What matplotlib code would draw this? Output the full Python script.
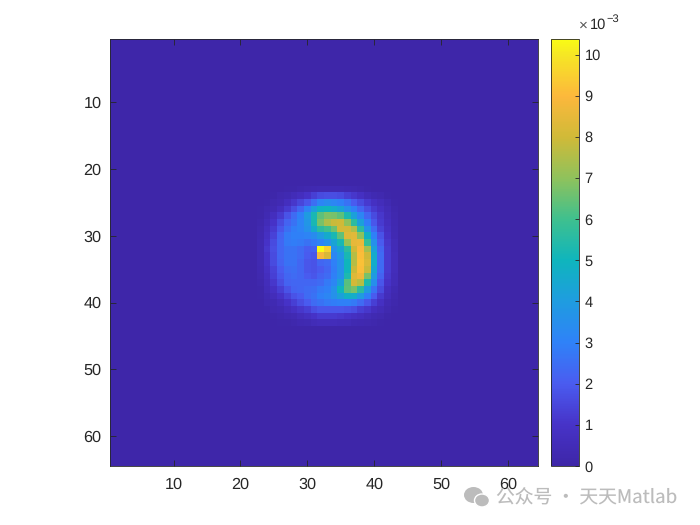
import numpy as np
import matplotlib
matplotlib.use("Agg")
import matplotlib.pyplot as plt
from matplotlib.colors import LinearSegmentedColormap
from matplotlib.patches import Ellipse

plt.rcParams['font.family'] = ['Liberation Sans', 'DejaVu Sans']
plt.rcParams['text.hinting'] = 'none'

first_row = 23
first_col = 23
background = 0.05
vmax = 10.38
# values in units of 1e-3, rows 23..43, columns 23..43 (outside: background)
cells = [
 [.05,.05,.05,.05,.1,.1,.2,.25,.3,.35,.35,.35,.35,.3,.25,.2,.1,.05,.05,.05,.05],
 [.05,.05,.1,.25,.35,.55,.7,1.0,1.3,1.6,1.7,1.7,1.6,1.3,1.1,.85,.55,.35,.25,.1,.05],
 [.05,.1,.25,.4,.7,1.1,1.5,1.9,2.5,3.1,3.4,3.2,3.0,2.6,2.0,1.6,1.2,.85,.6,.35,.1],
 [.1,.25,.4,.7,1.2,1.7,2.3,3.1,4.1,4.9,5.0,4.7,4.3,3.6,3.0,2.3,1.7,1.2,.85,.5,.2],
 [.1,.35,.7,1.2,1.8,2.4,3.0,4.0,5.2,6.4,6.8,6.7,6.4,5.3,4.2,3.2,2.3,1.6,1.1,.6,.25],
 [.2,.55,1.0,1.6,2.2,2.6,3.1,3.8,5.2,6.7,7.5,7.9,8.0,7.0,5.6,4.2,2.9,1.9,1.2,.7,.3],
 [.25,.7,1.2,1.9,2.5,2.9,3.1,3.6,4.6,5.6,6.0,6.6,8.1,8.1,7.5,5.6,3.7,2.4,1.4,.85,.35],
 [.3,.85,1.4,2.2,2.8,3.0,3.0,3.1,3.4,4.0,4.6,5.2,6.4,8.3,8.4,7.0,4.8,3.0,1.8,1.0,.4],
 [.35,1.0,1.6,2.3,2.8,2.9,2.8,2.6,2.8,3.1,3.6,4.3,5.2,7.1,8.5,8.6,5.8,3.6,2.0,1.1,.5],
 [.35,1.1,1.7,2.3,2.6,2.6,2.4,2.1,2.2,10.38,9.5,3.6,4.3,5.6,8.0,9.0,7.3,4.2,2.3,1.2,.55],
 [.35,1.0,1.6,2.3,2.6,2.6,2.4,2.0,1.9,8.9,8.2,3.2,3.8,5.2,7.6,9.1,8.0,4.6,2.4,1.2,.6],
 [.35,1.0,1.6,2.2,2.6,2.6,2.3,1.9,1.8,2.3,2.4,3.0,3.6,5.0,7.6,9.2,8.2,4.7,2.4,1.2,.6],
 [.3,.85,1.4,2.0,2.4,2.5,2.3,1.9,1.8,2.0,2.3,2.9,3.6,5.0,7.9,9.1,7.9,4.4,2.4,1.2,.6],
 [.25,.7,1.3,1.9,2.3,2.4,2.3,2.0,1.9,2.2,2.4,3.0,3.6,5.3,8.3,8.7,6.7,4.0,2.2,1.1,.55],
 [.2,.6,1.1,1.7,2.2,2.3,2.3,2.3,2.3,2.4,2.8,3.2,4.2,6.3,8.1,7.6,5.3,3.5,1.9,1.0,.5],
 [.1,.5,.85,1.3,1.8,2.2,2.3,2.4,2.5,2.8,3.0,3.6,5.0,6.4,6.7,5.6,4.0,2.6,1.6,.7,.35],
 [.1,.35,.6,1.0,1.4,1.8,2.0,2.4,2.6,3.0,3.2,3.6,4.2,4.8,4.7,4.0,3.0,2.0,1.2,.6,.25],
 [.05,.25,.35,.6,1.0,1.3,1.7,2.0,2.4,2.6,2.8,2.9,3.0,3.0,2.8,2.4,1.9,1.3,.85,.4,.2],
 [.05,.1,.25,.35,.6,.85,1.1,1.3,1.7,1.9,1.9,1.9,1.9,1.8,1.7,1.3,1.1,.7,.5,.25,.1],
 [.05,.05,.1,.2,.3,.4,.6,.8,1.0,1.2,1.2,1.2,1.1,1.0,.85,.7,.5,.35,.25,.1,.05],
 [.05,.05,.05,.1,.1,.2,.3,.35,.5,.6,.6,.6,.55,.5,.35,.3,.25,.2,.1,.05,.05],
]
xticks = [10, 20, 30, 40, 50, 60]
yticks = [10, 20, 30, 40, 50, 60]
cticks = list(range(11))

anchor_values = [0, 1, 2, 3, 4, 5, 6, 7, 8, 9, 10, 10.38]
anchor_colors = ['#3e26a8', '#4733c8', '#4a5cf0', '#2f82f8', '#1f9ce0', '#0fb5bd',
                 '#3fc08e', '#8fc25c', '#d0ba38', '#fcb83c', '#f6e625', '#f9fb15']
parula = LinearSegmentedColormap.from_list(
    'parula', [(v / vmax, c) for v, c in zip(anchor_values, anchor_colors)], N=256)

grid = np.full((64, 64), background)
table = np.array(cells)
grid[first_row-1:first_row-1+table.shape[0], first_col-1:first_col-1+table.shape[1]] = table

fig = plt.figure(figsize=(7, 5.25), dpi=100, facecolor='white')
ax = fig.add_axes([110/700, 59/525, 428/700, 427/525])
im = ax.imshow(grid, cmap=parula, vmin=0, vmax=vmax, extent=(0.5, 64.5, 64.5, 0.5),
               interpolation='nearest', aspect='auto')
dark = '#262626'
ax.set_xticks(xticks)
ax.set_yticks(yticks)
ax.tick_params(direction='in', length=4, width=0.6, color=dark, labelcolor=dark,
               labelsize=11.7, top=True, right=True)
ax.tick_params(axis='x', pad=8)
ax.tick_params(axis='y', pad=6)
for s in ax.spines.values():
    s.set_linewidth(0.6)
    s.set_color(dark)

cax = fig.add_axes([551/700, 59/525, 28/700, 427/525])
cb = fig.colorbar(im, cax=cax)
cb.set_ticks(cticks)
cax.tick_params(direction='in', length=3, width=0.6, color=dark, labelcolor=dark, labelsize=10.5, pad=4)
cb.outline.set_linewidth(0.6)
cb.outline.set_edgecolor(dark)
fig.text(579/700, 1-26/525, '×', fontsize=11, color='#555555', ha='left', va='center')
fig.text(590/700, 1-25/525, '10', fontsize=10.5, color=dark, ha='left', va='center')
fig.text(606/700, 1-19/525, '−3', fontsize=8, color=dark, ha='left', va='center')

# watermark
wm = '#bcbcbc'
ov = fig.add_axes([0, 0, 1, 1], facecolor='none')
ov.set_xlim(0, 700); ov.set_ylim(525, 0); ov.axis('off')
ov.add_patch(Ellipse((473.5, 495), 19, 16, color=wm, lw=0))
ov.add_patch(Ellipse((482, 500.5), 15, 13, facecolor=wm, edgecolor='white', lw=1))
ov.text(496, 497, '公众号 · 天天Matlab', fontsize=13.5, color=wm, va='center', ha='left',
        family=['Noto Sans CJK SC', 'DejaVu Sans'])

fig.savefig('out.png', dpi=100)
